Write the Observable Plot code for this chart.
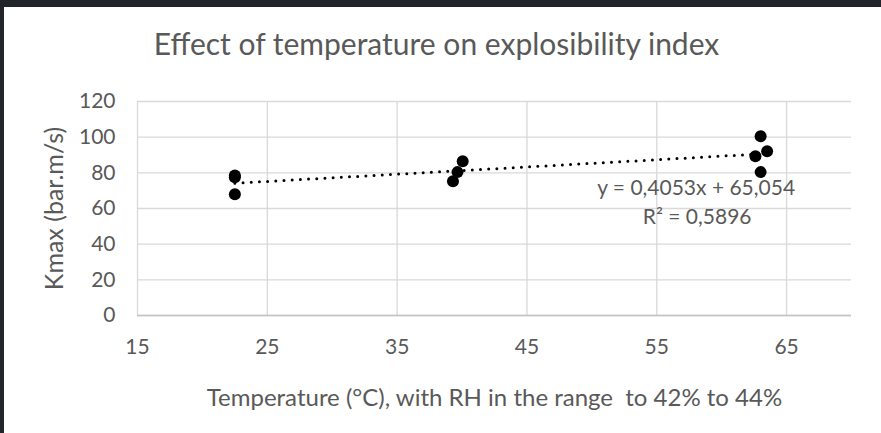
<!DOCTYPE html>
<html>
<head>
<meta charset="utf-8">
<script src="https://cdn.jsdelivr.net/npm/d3@7"></script>
<script src="https://cdn.jsdelivr.net/npm/@observablehq/plot@0.6"></script>
<style>
html, body { margin: 0; padding: 0; background: #212529; width: 881px; height: 433px; overflow: hidden; }
#frame { position: absolute; left: 4px; top: 7px; width: 877px; height: 426px; background: #ffffff; overflow: hidden; }
#title { position: absolute; left: -6px; top: 17px; width: 877px; line-height: 38px; text-align: center;
  font-family: Lato, sans-serif; font-size: 30px; color: #595959; }
#chart { position: absolute; left: 0; top: 62px; }
</style>
</head>
<body>
<div id="frame">
  <div id="title">Effect of temperature on explosibility index</div>
  <div id="chart"></div>
</div>
<script>
// Data
const temperature = [22.5, 22.5, 22.5, 39.3, 39.65, 40.05, 62.6, 63.0, 63.0, 63.5];
const kmax        = [78.5, 77.5, 68.0, 75.3, 80.4, 86.5, 89.3, 100.5, 80.4, 92.1];
const xTicks = [15, 25, 35, 45, 55, 65];
const yTicks = [0, 20, 40, 60, 80, 100, 120];
const xDomain = [15, 70];
const yDomain = [0, 120];
const trendSlope = 0.4053;
const trendIntercept = 65.054;
const equationLabel = "y = 0,4053x + 65,054";
const r2Label = "R\u00B2 = 0,5896";
const xLabel = "Temperature (\u00B0C), with RH in the range  to 42% to 44%";
const yLabel = "Kmax (bar.m/s)";

const points = temperature.map((t, i) => ({t, k: kmax[i]}));
const [tMin, tMax] = d3.extent(temperature);
const trend = [tMin, tMax].map(t => ({t, k: trendSlope * t + trendIntercept}));
const trendEnd = trend[1];

const textColor = "#595959";
const plot = Plot.plot({
  width: 877,
  height: 364,
  marginTop: 32,
  marginBottom: 118,
  marginLeft: 133,
  marginRight: 30,
  style: { fontFamily: "Lato, sans-serif", fontSize: "21px", color: textColor, background: "white" },
  x: { domain: xDomain },
  y: { domain: yDomain },
  marks: [
    Plot.gridY(yTicks, { stroke: "#d9d9d9", strokeOpacity: 1, strokeWidth: 1.3 }),
    Plot.gridX(xTicks, { stroke: "#d9d9d9", strokeOpacity: 1, strokeWidth: 1.3 }),
    Plot.ruleY([0], { stroke: "#c4c4c4", strokeWidth: 1.5 }),
    Plot.axisX({ ticks: xTicks, tickSize: 0, tickPadding: 24, fontSize: 21, label: null, fill: textColor }),
    Plot.axisX({ ticks: [], tickSize: 0, label: xLabel, labelAnchor: "center", fontSize: 24,
      labelOffset: 90, labelArrow: "none", fill: textColor }),
    Plot.axisY({ ticks: yTicks, tickSize: 0, tickPadding: 22, fontSize: 21, label: null, fill: textColor }),
    Plot.axisY({ ticks: [], tickSize: 0, label: yLabel, labelAnchor: "center", fontSize: 25,
      labelOffset: 92, labelArrow: "none", fill: textColor }),
    Plot.line(trend, { x: "t", y: "k", stroke: "black", strokeWidth: 3, strokeDasharray: "0 8.2", strokeLinecap: "round" }),
    Plot.dot(points, { x: "t", y: "k", r: 6, fill: "black", stroke: null }),
    Plot.text([equationLabel], { x: () => trendEnd.t, y: () => trendEnd.k, dx: -71, dy: 35, fill: textColor, fontSize: 21 }),
    Plot.text([r2Label], { x: () => trendEnd.t, y: () => trendEnd.k, dx: -70, dy: 64, fill: textColor, fontSize: 21 })
  ]
});
document.getElementById("chart").appendChild(plot);
</script>
</body>
</html>
